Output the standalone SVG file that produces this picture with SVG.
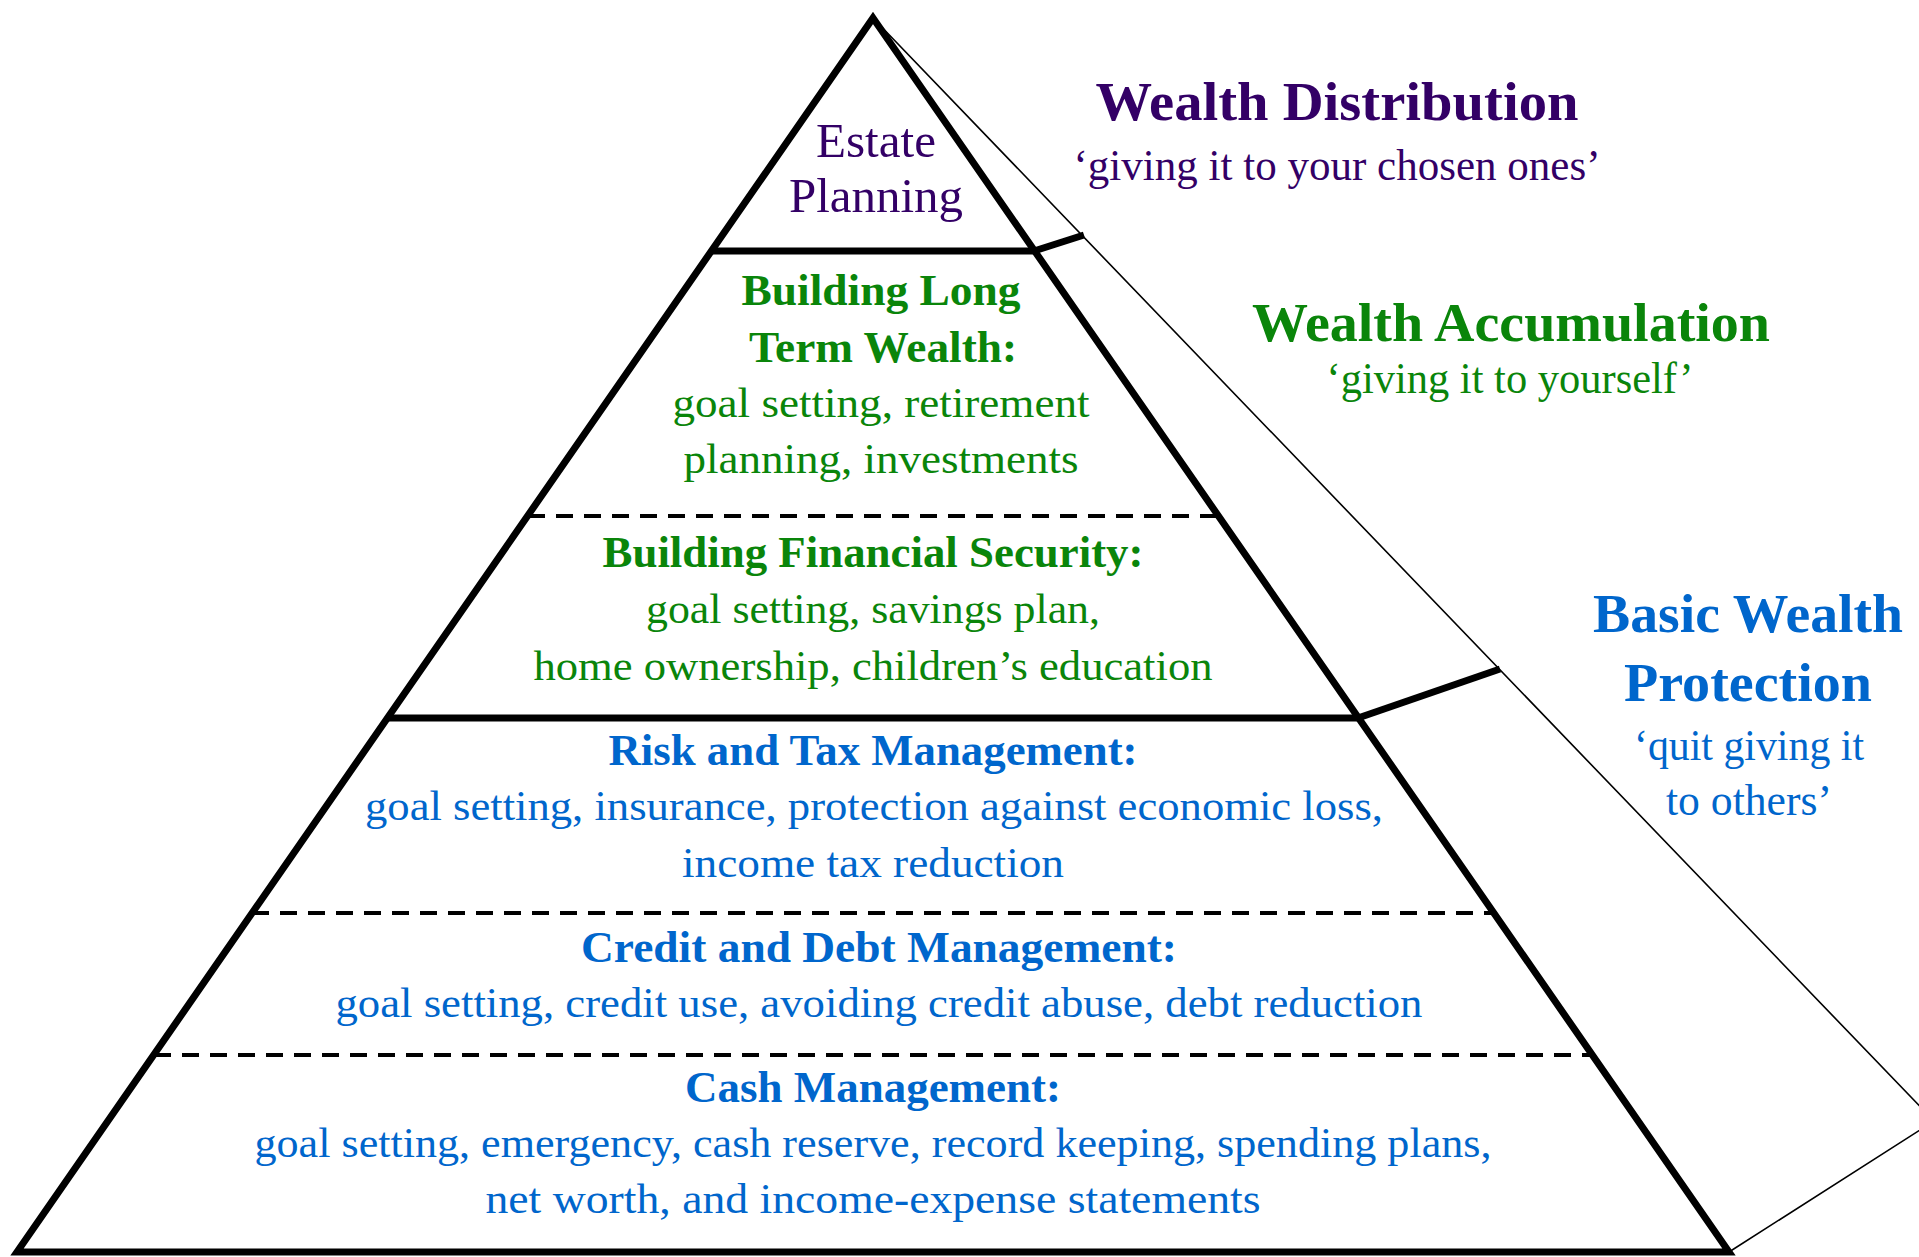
<svg xmlns="http://www.w3.org/2000/svg" width="1919" height="1257" viewBox="0 0 1919 1257">
<style>
text{font-family:"Liberation Serif","Times New Roman",serif;text-anchor:middle}
.p{fill:#330066}
.g{fill:#0a850a}
.b{fill:#0066cc}
.h{font-size:45px;font-weight:bold}
.t{font-size:43px}
.big{font-size:55px;font-weight:bold}
.sub{font-size:45px}
.thick{stroke:#000;stroke-width:7;fill:none}
.thin{stroke:#000;stroke-width:1.6;fill:none}
.dash{stroke:#000;stroke-width:3.8;stroke-dasharray:17 11;fill:none}
</style>
<rect width="1919" height="1257" fill="#fff"/>
<g id="shapes">
<polyline class="thin" points="873,18 1934,1121 1729,1252"/>
<polygon class="thick" points="873,18 1729,1252 17,1252" stroke-linejoin="miter"/>
<line class="thick" x1="711" y1="251" x2="1035" y2="251"/>
<line class="thick" x1="387" y1="718" x2="1359" y2="718"/>
<line class="dash" x1="528" y1="516" x2="1218" y2="516"/>
<line class="dash" x1="252" y1="913" x2="1494" y2="913"/>
<line class="dash" x1="154" y1="1055" x2="1592" y2="1055"/>
</g>
<g id="connectors">
<line class="thick" x1="1034" y1="251" x2="1084" y2="235"/>
<line class="thick" x1="1358" y1="718" x2="1500" y2="669"/>
</g>
<g id="estate-planning">
<text class="p" x="876" y="157" font-size="48" textLength="120" lengthAdjust="spacingAndGlyphs">Estate</text>
<text class="p" x="876" y="212" font-size="48" textLength="174" lengthAdjust="spacingAndGlyphs">Planning</text>
</g>
<g id="long-term-wealth">
<text class="g h" x="881" y="305" textLength="279" lengthAdjust="spacingAndGlyphs">Building Long</text>
<text class="g h" x="883" y="362" textLength="268" lengthAdjust="spacingAndGlyphs">Term Wealth:</text>
<text class="g t" x="881" y="417" textLength="417" lengthAdjust="spacingAndGlyphs">goal setting, retirement</text>
<text class="g t" x="881" y="473" textLength="395" lengthAdjust="spacingAndGlyphs">planning, investments</text>
</g>
<g id="financial-security">
<text class="g h" x="873" y="567" textLength="541" lengthAdjust="spacingAndGlyphs">Building Financial Security:</text>
<text class="g t" x="873" y="623" textLength="454" lengthAdjust="spacingAndGlyphs">goal setting, savings plan,</text>
<text class="g t" x="873" y="680" textLength="679" lengthAdjust="spacingAndGlyphs">home ownership, children’s education</text>
</g>
<g id="risk-tax">
<text class="b h" x="873" y="765" textLength="529" lengthAdjust="spacingAndGlyphs">Risk and Tax Management:</text>
<text class="b t" x="874" y="820" textLength="1018" lengthAdjust="spacingAndGlyphs">goal setting, insurance, protection against economic loss,</text>
<text class="b t" x="873" y="877" textLength="382" lengthAdjust="spacingAndGlyphs">income tax reduction</text>
</g>
<g id="credit-debt">
<text class="b h" x="879" y="962" textLength="596" lengthAdjust="spacingAndGlyphs">Credit and Debt Management:</text>
<text class="b t" x="879" y="1017" textLength="1087" lengthAdjust="spacingAndGlyphs">goal setting, credit use, avoiding credit abuse, debt reduction</text>
</g>
<g id="cash">
<text class="b h" x="873" y="1102" textLength="376" lengthAdjust="spacingAndGlyphs">Cash Management:</text>
<text class="b t" x="873" y="1157" textLength="1237" lengthAdjust="spacingAndGlyphs">goal setting, emergency, cash reserve, record keeping, spending plans,</text>
<text class="b t" x="873" y="1213" textLength="775" lengthAdjust="spacingAndGlyphs">net worth, and income-expense statements</text>
</g>
<g id="wealth-distribution">
<text class="p big" x="1337" y="120" textLength="483" lengthAdjust="spacingAndGlyphs">Wealth Distribution</text>
<text class="p sub" x="1337" y="180" textLength="527" lengthAdjust="spacingAndGlyphs">‘giving it to your chosen ones’</text>
</g>
<g id="wealth-accumulation">
<text class="g big" x="1511" y="341" textLength="518" lengthAdjust="spacingAndGlyphs">Wealth Accumulation</text>
<text class="g sub" x="1510" y="393" textLength="367" lengthAdjust="spacingAndGlyphs">‘giving it to yourself’</text>
</g>
<g id="basic-wealth-protection">
<text class="b big" x="1748" y="632" textLength="310" lengthAdjust="spacingAndGlyphs">Basic Wealth</text>
<text class="b big" x="1748" y="701" textLength="248" lengthAdjust="spacingAndGlyphs">Protection</text>
<text class="b sub" x="1749" y="760" textLength="230" lengthAdjust="spacingAndGlyphs">‘quit giving it</text>
<text class="b sub" x="1749" y="815" textLength="166" lengthAdjust="spacingAndGlyphs">to others’</text>
</g>
</svg>
